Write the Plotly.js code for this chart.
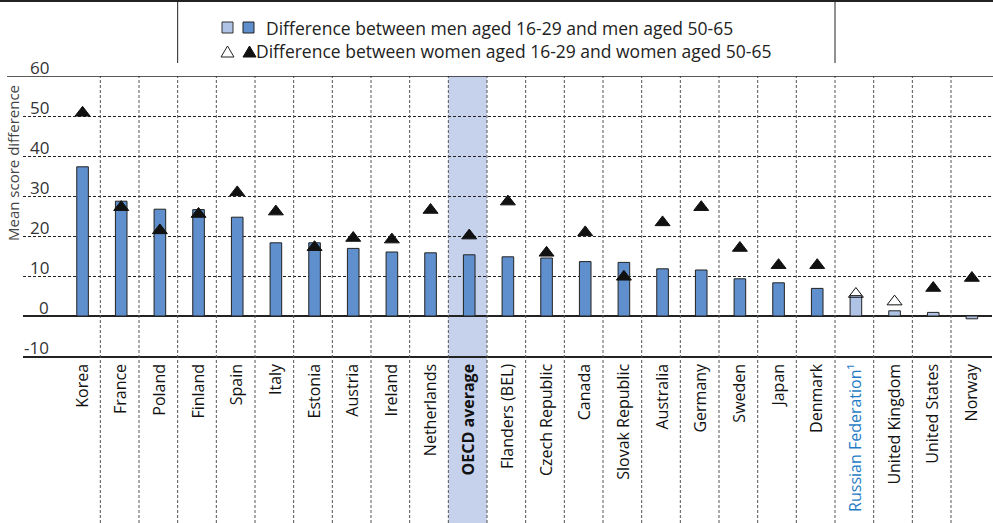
<!DOCTYPE html>
<html>
<head>
<meta charset="utf-8">
<script src="https://cdn.plot.ly/plotly-3.0.1.min.js"></script>
<style>html,body{margin:0;padding:0;background:#fff;}#chart{width:993px;height:523px;}</style>
</head>
<body>
<div id="chart"></div>
<script>
// ---- data ----
const countries = ['Korea','France','Poland','Finland','Spain','Italy','Estonia','Austria','Ireland','Netherlands','OECD average','Flanders (BEL)','Czech Republic','Canada','Slovak Republic','Australia','Germany','Sweden','Japan','Denmark','Russian Federation¹','United Kingdom','United States','Norway'];
const menDiff   = [37.3, 28.7, 26.7, 26.6, 24.7, 18.3, 18.3, 16.9, 16.0, 15.8, 15.3, 14.8, 14.5, 13.6, 13.4, 11.8, 11.5, 9.3, 8.3, 6.9, 5.1, 1.3, 0.9, -0.7];
const menSig    = [1,1,1,1,1,1,1,1,1,1,1,1,1,1,1,1,1,1,1,1,0,0,0,0];
const womenDiff = [50.8, 27.2, 21.4, 25.5, 30.9, 26.1, 17.2, 19.5, 19.1, 26.5, 20.1, 28.6, 15.8, 20.9, 9.8, 23.4, 27.2, 17.0, 12.7, 12.7, 5.5, 3.6, 7.0, 9.5];
const womenSig  = [1,1,1,1,1,1,1,1,1,1,1,1,1,1,1,1,1,1,1,1,0,0,1,1];
const yTicks = [-10, 0, 10, 20, 30, 40, 50, 60];
const yTickText = ['-10', '0', '10', '20', '30', '40', '50', '60'];
const legendMen = 'Difference between men aged 16-29 and men aged 50-65';
const legendWomen = 'Difference between women aged 16-29 and women aged 50-65';
const yTitle = 'Mean score difference';
const highlight = 'OECD average';
const partner = 'Russian Federation¹';

// ---- styling ----
const DARK = '#5f8fcd', LIGHT = '#aec3e6', BAND = '#c6d2eb', BLUE = '#1f7cc4';
const FONT = 'Open Sans, Liberation Sans, Arial, sans-serif';
const W = 993, H = 523, ML = 23, MR = 1, MT = 76, MB = 167;
const PW = W - ML - MR, PH = H - MT - MB;
const px = x => (x - ML) / PW;          // pixel -> paper x
const py = y => (H - MB - y) / PH;      // pixel -> paper y

const idx = countries.map((_, i) => i);
const tickText = countries.map(c => c === highlight ? '<b>' + c + '</b>' :
  (c === partner ? '<span style="color:' + BLUE + '">' + c + '</span>' : c));

const bars = {
  type: 'bar', x: idx, y: menDiff, width: 0.3,
  marker: { color: menSig.map(s => s ? DARK : LIGHT), line: { color: '#222', width: 1 } },
  hoverinfo: 'y', showlegend: false
};
const tris = {
  type: 'scatter', mode: 'markers', x: idx, y: womenDiff,
  marker: { symbol: womenSig.map(s => s ? 'triangle-up' : 'triangle-up-open'), size: 13, color: '#111',
            line: { color: '#111', width: 1 } },
  hoverinfo: 'y', showlegend: false, cliponaxis: false
};

const off = -0.04;
const shapes = [];
// OECD band
const hi = countries.indexOf(highlight);
shapes.push({ type: 'rect', layer: 'below', xref: 'x', yref: 'paper', x0: hi - 0.5 + off, x1: hi + 0.5 + off,
  y0: py(H), y1: 1, fillcolor: BAND, line: { width: 0 } });
// separators
for (let k = 0; k < countries.length - 1; k++) {
  shapes.push({ type: 'line', layer: 'above', xref: 'x', yref: 'paper', x0: k + 0.5 + off, x1: k + 0.5 + off,
    y0: py(H), y1: 1, line: { color: '#555', width: 1, dash: '3px,2px' } });
}
// top solid line at 60
shapes.push({ type: 'line', xref: 'paper', yref: 'y', x0: px(7), x1: 1.01, y0: 60, y1: 60, line: { color: '#222', width: 1.5 } });
// legend box lines
shapes.push({ type: 'line', xref: 'paper', yref: 'paper', x0: px(0), x1: px(W), y0: py(1), y1: py(1), line: { color: '#222', width: 2 } });
[2.5, 19.5].forEach(v => shapes.push({ type: 'line', xref: 'x', yref: 'paper', x0: v + off, x1: v + off,
  y0: py(63), y1: py(0), line: { color: '#222', width: 1 } }));
// legend squares
shapes.push({ type: 'rect', xref: 'paper', yref: 'paper', x0: px(222), x1: px(233), y0: py(33), y1: py(22), fillcolor: LIGHT, line: { color: '#333', width: 1 } });
shapes.push({ type: 'rect', xref: 'paper', yref: 'paper', x0: px(243), x1: px(254), y0: py(33), y1: py(22), fillcolor: DARK, line: { color: '#222', width: 1 } });
// legend triangles
function triPath(cx, top, bot, hw) {
  return 'M' + px(cx - hw) + ',' + py(bot) + ' L' + px(cx + hw) + ',' + py(bot) + ' L' + px(cx) + ',' + py(top) + ' Z';
}
shapes.push({ type: 'path', xref: 'paper', yref: 'paper', path: triPath(227.5, 46, 57, 6.5), fillcolor: '#fff', line: { color: '#222', width: 1 } });
shapes.push({ type: 'path', xref: 'paper', yref: 'paper', path: triPath(249.5, 46, 57, 6.5), fillcolor: '#111', line: { color: '#111', width: 1 } });

const annotations = [
  { xref: 'paper', yref: 'paper', x: px(264), y: py(28), xanchor: 'left', yanchor: 'middle', showarrow: false,
    text: legendMen, font: { family: FONT, size: 17.5, color: '#222' } },
  { xref: 'paper', yref: 'paper', x: px(254), y: py(51), xanchor: 'left', yanchor: 'middle', showarrow: false,
    text: legendWomen, font: { family: FONT, size: 17.5, color: '#222' } },
  { xref: 'paper', yref: 'paper', x: px(13), y: py(163), xanchor: 'center', yanchor: 'middle', showarrow: false,
    text: yTitle, textangle: -90, font: { family: FONT, size: 15, color: '#444' } }
];
yTicks.forEach((v, i) => annotations.push({
  xref: 'paper', yref: 'y', x: px(51), y: v, xanchor: 'right', yanchor: 'middle', yshift: 9, showarrow: false,
  text: yTickText[i], font: { family: FONT, size: 17, color: '#333' }
}));

const layout = {
  width: W, height: H, margin: { l: ML, r: MR, t: MT, b: MB, pad: 0 },
  paper_bgcolor: '#fff', plot_bgcolor: 'rgba(0,0,0,0)',
  font: { family: FONT, color: '#222' },
  showlegend: false,
  xaxis: {
    type: 'linear', range: [-1.54, 23.52], tickmode: 'array', tickvals: idx, ticktext: tickText,
    tickangle: -90, ticks: '', showgrid: false, zeroline: false, showline: true, linecolor: '#222', linewidth: 1.5,
    tickfont: { family: FONT, size: 16, color: '#111' }, ticklabelstandoff: 0, fixedrange: true
  },
  yaxis: {
    range: [-10, 60], tickmode: 'array', tickvals: yTicks, ticks: '', showticklabels: false,
    showgrid: true, gridcolor: '#222', griddash: '3px,2px', gridwidth: 1,
    zeroline: true, zerolinecolor: '#222', zerolinewidth: 1.5, showline: false, fixedrange: true
  },
  shapes: shapes, annotations: annotations, bargap: 0
};

Plotly.newPlot('chart', [bars, tris], layout, { staticPlot: true, displayModeBar: false });
</script>
</body>
</html>
